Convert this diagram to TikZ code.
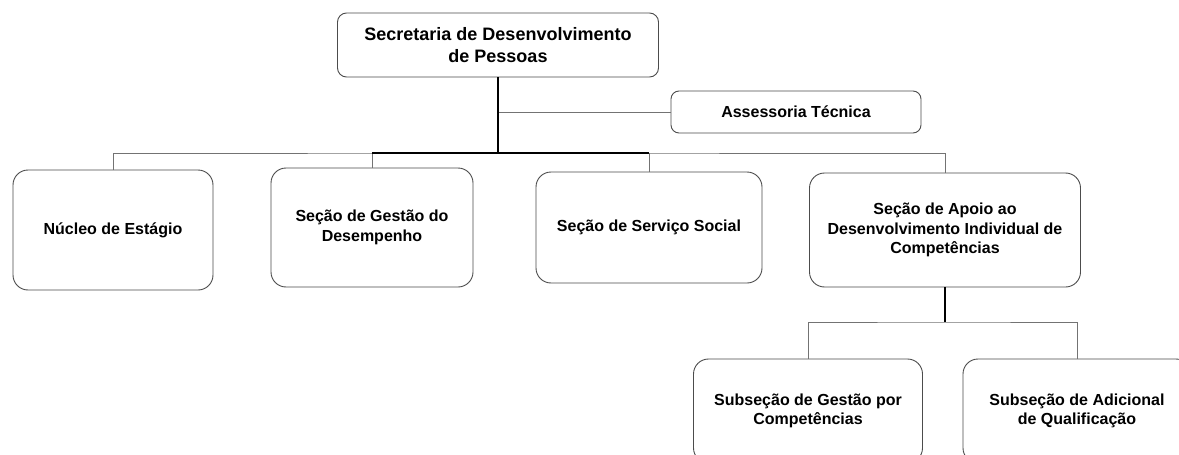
\documentclass[tikz,border=0pt]{standalone}
\usepackage{fontspec}
\setmainfont{Liberation Sans}
\begin{document}
\begin{tikzpicture}[x=1pt, y=-1pt,
  unit/.style={draw=black!70, line width=0.9pt, rounded corners=15pt, align=center, inner sep=0pt,
    font=\bfseries\fontsize{16}{19.5}\selectfont},
  link/.style={black!55, line width=1pt},
  trunk/.style={black, line width=1.3pt}]
\useasboundingbox (0,0) rectangle (1179,455);
\fill [white] (0,0) rectangle (1179,455);

\node (sec) [unit, rounded corners=9pt, minimum width=321pt, minimum height=64pt, font=\bfseries\fontsize{18}{22}\selectfont] at (498,45) {Secretaria de Desenvolvimento\\de Pessoas};
\node (ass) [unit, rounded corners=8pt, minimum width=250pt, minimum height=42pt] at (796,112) {Assessoria Técnica};

\node (nucleo) [unit, minimum width=200pt, minimum height=120pt] at (113,230) {Núcleo de Estágio};
\node (gestao) [unit, minimum width=202pt, minimum height=119pt] at (372,227.5) {Seção de Gestão do\\Desempenho};
\node (servico) [unit, minimum width=226pt, minimum height=111pt] at (649,227.5) {Seção de Serviço Social};
\node (apoio) [unit, minimum width=271pt, minimum height=114pt] at (945,230) {Seção de Apoio ao\\Desenvolvimento Individual de\\Competências};

\node (subgestao) [unit, minimum width=229pt, minimum height=104pt] at (808,411) {Subseção de Gestão por\\Competências};
\node (subadic) [unit, minimum width=228pt, minimum height=104pt] at (1077,411) {Subseção de Adicional\\de Qualificação};

\coordinate (bus) at (498,153);
\coordinate (fork) at (945,322);

\draw [link] (ass.west) -- (ass.west -| sec.south);
\draw [link] (nucleo.north) |- (bus) -| (apoio.north);
\draw [link] (gestao.north) -- (gestao.north |- bus);
\draw [link] (servico.north) -- (servico.north |- bus);
\draw [link] (subgestao.north) |- (fork) -| (subadic.north);

\draw [trunk] (sec.south) -- (bus);
\draw [trunk] (gestao.north |- bus) -- (servico.north |- bus);
\draw [trunk] (apoio.south) -- (fork);

\end{tikzpicture}
\end{document}
